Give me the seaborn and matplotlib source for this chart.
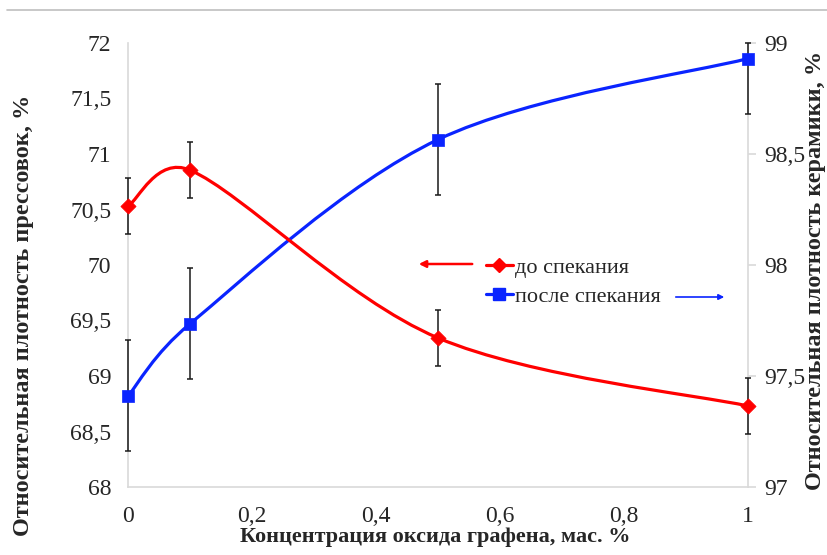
import numpy as np
import matplotlib
matplotlib.use("Agg")
import matplotlib.pyplot as plt
import seaborn as sns
from matplotlib.path import Path
from matplotlib.patches import PathPatch, FancyArrowPatch
from matplotlib.lines import Line2D

# --- данные ---
conc = [0, 0.1, 0.5, 1]                       # концентрация оксида графена, мас. %
before_sint = [70.53, 70.855, 69.343, 68.73]  # левая ось, до спекания
before_err = [0.25, 0.25, 0.25, 0.25]
after_sint = [97.41, 97.735, 98.565, 98.93]   # правая ось, после спекания
after_err_low = [0.25, 0.25, 0.25, 0.25]
after_err_up = [0.25, 0.25, 0.25, 0.07]       # у последней точки планка упирается в 99

x_ticks = [0, 0.2, 0.4, 0.6, 0.8, 1]
x_labels = ["0", "0,2", "0,4", "0,6", "0,8", "1"]
left_ticks = [68, 68.5, 69, 69.5, 70, 70.5, 71, 71.5, 72]
left_labels = ["68", "68,5", "69", "69,5", "70", "70,5", "71", "71,5", "72"]
right_ticks = [97, 97.5, 98, 98.5, 99]
right_labels = ["97", "97,5", "98", "98,5", "99"]

RED = "#ff0000"
BLUE = "#0a24ff"
SPINE = "#d9d9d9"
TXT = "#262626"
W, H = 828, 555


def smooth_path(a, xs, ys):
    """Сглаженная линия как в Excel: Безье с натяжением 1/6, считается в экранных
    координатах; плечо контрольной точки не длиннее половины сегмента."""
    tr = a.transData
    pts = tr.transform(np.column_stack([xs, ys]).astype(float))
    n = len(pts)
    verts = [pts[0]]
    codes = [Path.MOVETO]
    for i in range(n - 1):
        p0 = pts[i - 1] if i > 0 else pts[i]
        p1, p2 = pts[i], pts[i + 1]
        p3 = pts[i + 2] if i + 2 < n else pts[i + 1]
        half = np.linalg.norm(p2 - p1) / 2
        v1 = (p2 - p0) / 6
        v2 = (p3 - p1) / 6
        for v in (v1, v2):
            ln = np.linalg.norm(v)
            if ln > half:
                v *= half / ln
        verts += [p1 + v1, p2 - v2, p2]
        codes += [Path.CURVE4] * 3
    return Path(tr.inverted().transform(np.array(verts)), codes)


def unclip(container):
    for art in container.get_children():
        art.set_clip_on(False)


sns.set_theme(style="white")
plt.rcParams["font.family"] = ["Liberation Serif", "DejaVu Serif"]

fig = plt.figure(figsize=(W / 100, H / 100), dpi=100)
rect = [128 / W, 1 - 487 / H, 620 / W, 444 / H]
ax2 = fig.add_axes(rect)                 # правая ось (рисуется снизу, на ней рамка)
ax = fig.add_axes(rect, sharex=ax2)      # левая ось
ax.patch.set_visible(False)
ax2.yaxis.tick_right()

ax.set_xlim(0, 1)
ax.set_ylim(68, 72)
ax2.set_ylim(97, 99)

# кривые
ax.add_patch(PathPatch(smooth_path(ax, conc, before_sint), fill=False, edgecolor=RED, lw=2.3, zorder=3))
ax2.add_patch(PathPatch(smooth_path(ax2, conc, after_sint), fill=False, edgecolor=BLUE, lw=2.3, zorder=3))

# планки погрешностей
eb1 = ax.errorbar(conc, before_sint, yerr=before_err, fmt="none", ecolor="#1a1a1a",
                  elinewidth=1.1, capsize=2.5, capthick=1.1, zorder=4)
eb2 = ax2.errorbar(conc, after_sint, yerr=[after_err_low, after_err_up], fmt="none", ecolor="#1a1a1a",
                   elinewidth=1.1, capsize=2.5, capthick=1.1, zorder=4)
unclip(eb1)
unclip(eb2)

# маркеры
sns.scatterplot(x=conc, y=before_sint, ax=ax, marker="D", s=60, color=RED, edgecolor=RED, linewidth=0.5, zorder=5)
ax.collections[-1].set_clip_on(False)
sns.scatterplot(x=conc, y=after_sint, ax=ax2, marker="s", s=85, color=BLUE, edgecolor=BLUE, linewidth=0.5, zorder=5)
ax2.collections[-1].set_clip_on(False)

ax.set_xlim(0, 1)
ax.set_ylim(68, 72)
ax2.set_ylim(97, 99)

ax.set_xticks(x_ticks)
ax.set_xticklabels(x_labels)
ax.set_yticks(left_ticks)
ax.set_yticklabels(left_labels)
ax2.set_yticks(right_ticks)
ax2.set_yticklabels(right_labels)
ax2.tick_params(axis="x", bottom=False, labelbottom=False)

for s in ax.spines:
    ax.spines[s].set_visible(False)
ax2.spines["top"].set_visible(False)
for s in ("left", "right", "bottom"):
    ax2.spines[s].set_color(SPINE)
    ax2.spines[s].set_linewidth(1.2)
for a in (ax, ax2):
    a.tick_params(axis="both", direction="out", length=6, width=1.2, color=SPINE,
                  labelsize=17, labelcolor=TXT, pad=6)
    a.grid(False)
ax.tick_params(axis="x", pad=8)

# подписи осей
fig.text(435 / W, 1 - 537 / H, "Концентрация оксида графена, мас. %", fontsize=16,
         fontweight="bold", color=TXT, ha="center", va="center")
fig.text(24 / W, 1 - 315 / H, "Относительная плотность прессовок, %", rotation=90, fontsize=17.5,
         fontweight="bold", color=TXT, ha="center", va="center")
fig.text(816 / W, 1 - 270 / H, "Относительная плотность керамики, %", rotation=90, fontsize=17.5,
         fontweight="bold", color=TXT, ha="center", va="center")

# легенда
handles = [
    Line2D([], [], color=RED, lw=2.3, marker="D", markersize=7),
    Line2D([], [], color=BLUE, lw=2.3, marker="s", markersize=9),
]
fig.legend(handles, ["до спекания", "после спекания"], loc="center left",
           bbox_to_anchor=(486 / W, 1 - 282 / H), frameon=False, fontsize=16,
           handlelength=1.2, handletextpad=0.1, labelspacing=0.4, borderaxespad=0,
           borderpad=0, labelcolor=TXT)

# стрелки к осям
fig.add_artist(FancyArrowPatch((475 / W, 1 - 264 / H), (416 / W, 1 - 264 / H),
               transform=fig.transFigure, arrowstyle="-|>", mutation_scale=10, color=RED, lw=1.8))
fig.add_artist(FancyArrowPatch((673 / W, 1 - 297 / H), (727 / W, 1 - 297 / H),
               transform=fig.transFigure, arrowstyle="-|>", mutation_scale=8, color=BLUE, lw=1.2))

# серая линия сверху
fig.add_artist(Line2D([0.008, 1], [1 - 10 / H, 1 - 10 / H], transform=fig.transFigure, color="#bfbfbf", lw=1.2))

fig.savefig("out.png", dpi=100)
